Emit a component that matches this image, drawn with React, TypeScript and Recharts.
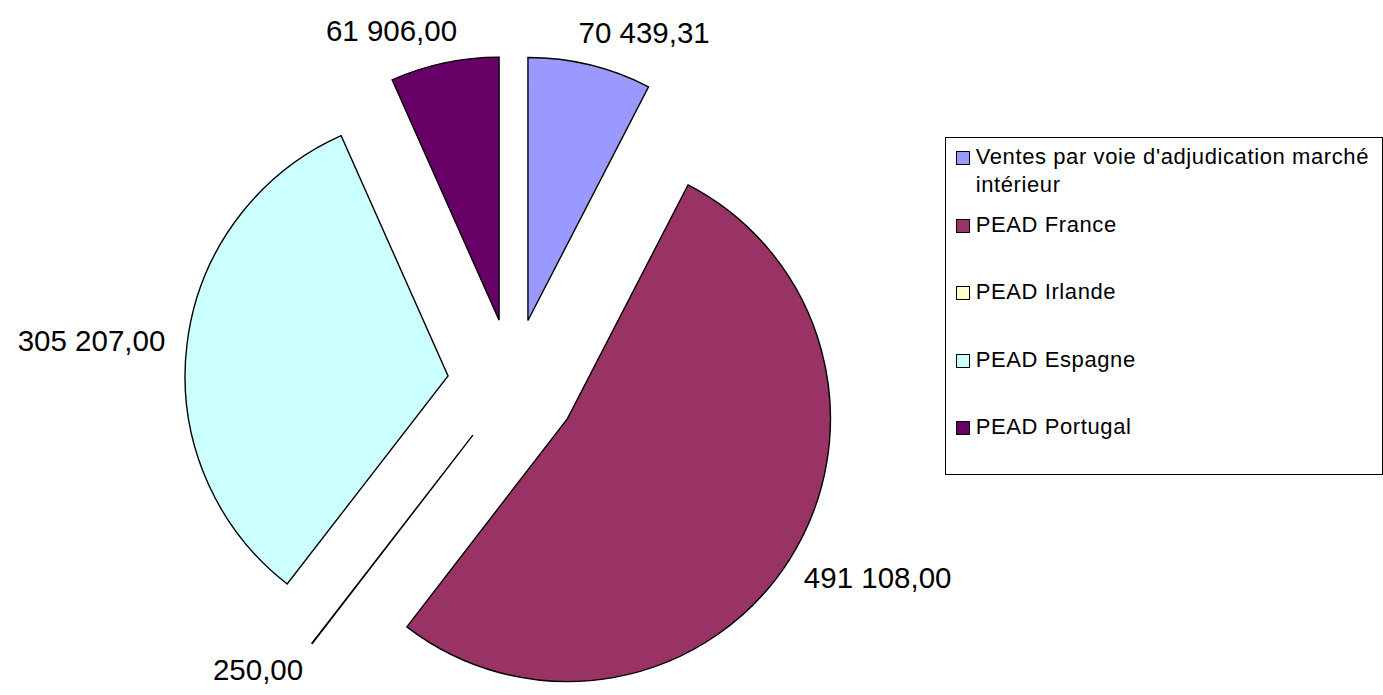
import React from "react";
import { PieChart, Pie, Sector, Legend } from "recharts";

const names = [
  "Ventes par voie d'adjudication marché intérieur",
  "PEAD France",
  "PEAD Irlande",
  "PEAD Espagne",
  "PEAD Portugal",
];
const values = [70439.31, 491108, 250, 305207, 61906];
const colors = ["#9999FF", "#993366", "#FFFFCC", "#CCFFFF", "#660066"];

const data = names.map((name, i) => ({ name, value: values[i] }));

const RAD = Math.PI / 180;
const EXPLODE = 65;
const FONT = "'Liberation Sans', Arial, sans-serif";
const LABEL_SIZE = 29.5;

// 70439.31 -> "70 439,31"
function fmt(v: number) {
  const [int, dec] = v.toFixed(2).split(".");
  return int.replace(/\B(?=(\d{3})+(?!\d))/g, " ") + "," + dec;
}

function textWidth(s: string) {
  let w = 0;
  for (const ch of s) w += /\d/.test(ch) ? 0.556 : 0.278;
  return w * LABEL_SIZE;
}

// each slice is pushed out along its mid angle, value label sits outside it
function ExplodedSlice(props: any) {
  const { cx, cy, outerRadius, startAngle, endAngle, index } = props;
  const mid = (startAngle + endAngle) / 2;
  const dx = Math.cos(-mid * RAD);
  const dy = Math.sin(-mid * RAD);
  const ex = cx + EXPLODE * dx;
  const ey = cy + EXPLODE * dy;
  const text = fmt(values[index]);
  const halfW = textWidth(text) / 2;
  const halfH = LABEL_SIZE * 0.358;
  const lx = ex + outerRadius * dx + Math.sign(dx) * (halfW + 22) * (0.5 + 0.5 * Math.abs(dx));
  const ly = ey + outerRadius * dy + dy * (halfH + 23);
  return (
    <g>
      <Sector
        cx={ex}
        cy={ey}
        innerRadius={0}
        outerRadius={outerRadius}
        startAngle={startAngle}
        endAngle={endAngle}
        fill={colors[index]}
        stroke="#000"
        strokeWidth={1.4}
      />
      <text x={lx} y={ly + halfH} textAnchor="middle" fontFamily={FONT} fontSize={LABEL_SIZE} fill="#000">
        {text}
      </text>
    </g>
  );
}

function LegendBox() {
  return (
    <div
      style={{
        boxSizing: "border-box",
        width: 438,
        height: 338,
        border: "1px solid #000",
        padding: "5.4px 0 0 9.7px",
        fontFamily: FONT,
        fontSize: 22,
        letterSpacing: 0.6,
        lineHeight: "28px",
        color: "#000",
        background: "#fff",
        textAlign: "left",
      }}
    >
      {names.map((n, i) => (
        <div key={n} style={{ display: "flex", height: 67.5 }}>
          <div
            style={{
              width: 12,
              height: 12,
              border: "1.5px solid #000",
              background: colors[i],
              marginTop: 8,
              flexShrink: 0,
            }}
          />
          <div style={{ marginLeft: 6, width: 402 }}>{n}</div>
        </div>
      ))}
    </div>
  );
}

export default function App() {
  return (
    <div style={{ position: "absolute", left: 0, top: 0, width: 1383, height: 695, background: "#fff" }}>
      <PieChart width={1383} height={695} margin={{ top: 0, right: 0, bottom: 0, left: 0 }}>
        <Pie
          data={data}
          dataKey="value"
          nameKey="name"
          cx={512.6}
          cy={383.7}
          outerRadius={263}
          startAngle={90}
          endAngle={-270}
          fill="none"
          stroke="none"
          label={ExplodedSlice}
          labelLine={false}
          isAnimationActive={false}
        />
        <Legend
          layout="vertical"
          align="right"
          verticalAlign="middle"
          content={() => <LegendBox />}
          wrapperStyle={{ left: 945, top: 137, width: 438, height: 338 }}
        />
      </PieChart>
    </div>
  );
}
